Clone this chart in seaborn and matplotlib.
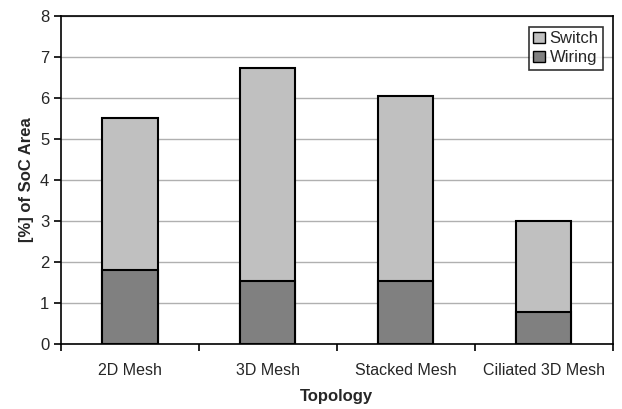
import matplotlib
matplotlib.use("Agg")
import matplotlib.pyplot as plt
import seaborn as sns
import pandas as pd
from matplotlib.patches import Patch

categories = ["2D Mesh", "3D Mesh", "Stacked Mesh", "Ciliated 3D Mesh"]
wiring = [1.8, 1.55, 1.55, 0.78]
switch = [3.7, 5.17, 4.5, 2.22]
totals = [w + s for w, s in zip(wiring, switch)]

sns.set_style("white")
plt.rcParams['font.family'] = ['Liberation Sans', 'DejaVu Sans']

fig, ax = plt.subplots(figsize=(6.22, 4.09), dpi=100)
fig.subplots_adjust(left=0.098, right=0.985, top=0.962, bottom=0.158)

df_tot = pd.DataFrame({"Topology": categories, "val": totals})
df_w = pd.DataFrame({"Topology": categories, "val": wiring})
sns.barplot(data=df_tot, x="Topology", y="val", color="#c0c0c0", width=0.4,
            edgecolor="black", linewidth=1.5, ax=ax, saturation=1, zorder=3)
sns.barplot(data=df_w, x="Topology", y="val", color="#808080", width=0.4,
            edgecolor="black", linewidth=1.5, ax=ax, saturation=1, zorder=3)

ax.set_ylim(0, 8)
ax.set_xlim(-0.5, 3.5)
ax.set_yticks(range(0, 9))
ax.yaxis.grid(True, color="#b0b0b0", linewidth=1)
ax.set_axisbelow(True)
for s in ax.spines.values():
    s.set_color("black")
    s.set_linewidth(1.2)
ax.tick_params(axis="y", left=True, length=5, width=1.2, labelsize=12, color="black")
ax.tick_params(axis="x", bottom=False, labelsize=11.5, pad=10)
ax.set_xticks([-0.5, 0.5, 1.5, 2.5, 3.5], minor=True)
ax.tick_params(axis="x", which="minor", bottom=True, length=5, width=1.2, color="black")
ax.set_xlabel("Topology", fontsize=12, fontweight="bold", labelpad=8)
ax.set_ylabel("[%] of SoC Area", fontsize=12, fontweight="bold", labelpad=4)

handles = [Patch(facecolor="#c0c0c0", edgecolor="black", label="Switch"),
           Patch(facecolor="#808080", edgecolor="black", label="Wiring")]
leg = ax.legend(handles=handles, loc="upper right", fontsize=12, frameon=True,
                fancybox=False, edgecolor="black", handlelength=0.7, handleheight=0.7,
                handletextpad=0.3, borderpad=0.25, labelspacing=0.25,
                bbox_to_anchor=(0.997, 0.99))
leg.get_frame().set_linewidth(1.2)

fig.savefig("out.png", dpi=100)
